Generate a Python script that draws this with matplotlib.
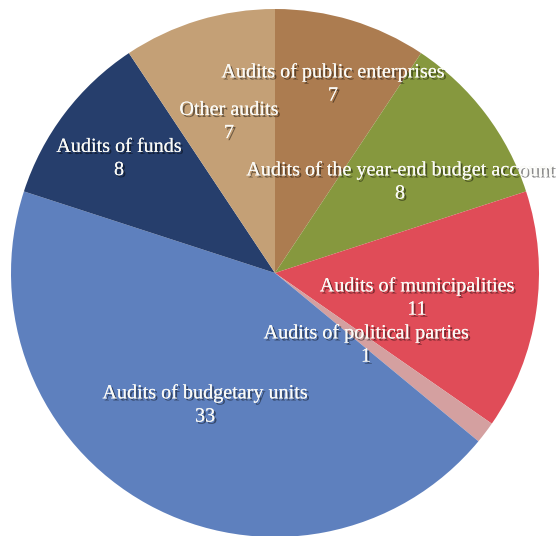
import matplotlib
matplotlib.use("Agg")
import matplotlib.pyplot as plt
import matplotlib.patheffects as pe

# Audit counts by category, clockwise from the top
categories = [
    "Audits of public enterprises",
    "Audits of the year-end budget account",
    "Audits of municipalities",
    "Audits of political parties",
    "Audits of budgetary units",
    "Audits of funds",
    "Other audits",
]
counts = [7, 8, 11, 1, 33, 8, 7]

colors = ["#AC7C50", "#86983E", "#E04C58", "#D4A0A0", "#5E80BE", "#263E6C", "#C4A076"]

# Label anchor points in figure pixel coordinates (x, y from top)
label_pos = [(333, 84), (400, 182), (417, 298), (366, 345), (205, 405), (119, 159), (229, 122)]

W, H = 560, 536
fig = plt.figure(figsize=(W / 100, H / 100), dpi=100)
ax = fig.add_axes([0, 0, 1, 1])

ax.pie(counts, colors=colors, startangle=90, counterclock=False,
       center=(275, H - 273), radius=264,
       wedgeprops=dict(linewidth=0))
ax.set_xlim(0, W)
ax.set_ylim(0, H)
ax.set_aspect("equal")
ax.axis("off")

shadow = [pe.withSimplePatchShadow(offset=(1.5, -1.5), shadow_rgbFace="black", alpha=0.45), pe.Normal()]
for name, val, (x, y) in zip(categories, counts, label_pos):
    ax.text(x, H - y, f"{name}\n{val}", ha="center", va="center", color="#FAFAF6",
            fontsize=14.5, family="Liberation Serif", linespacing=1.3,
            path_effects=shadow)

fig.savefig("out.png", dpi=100)
